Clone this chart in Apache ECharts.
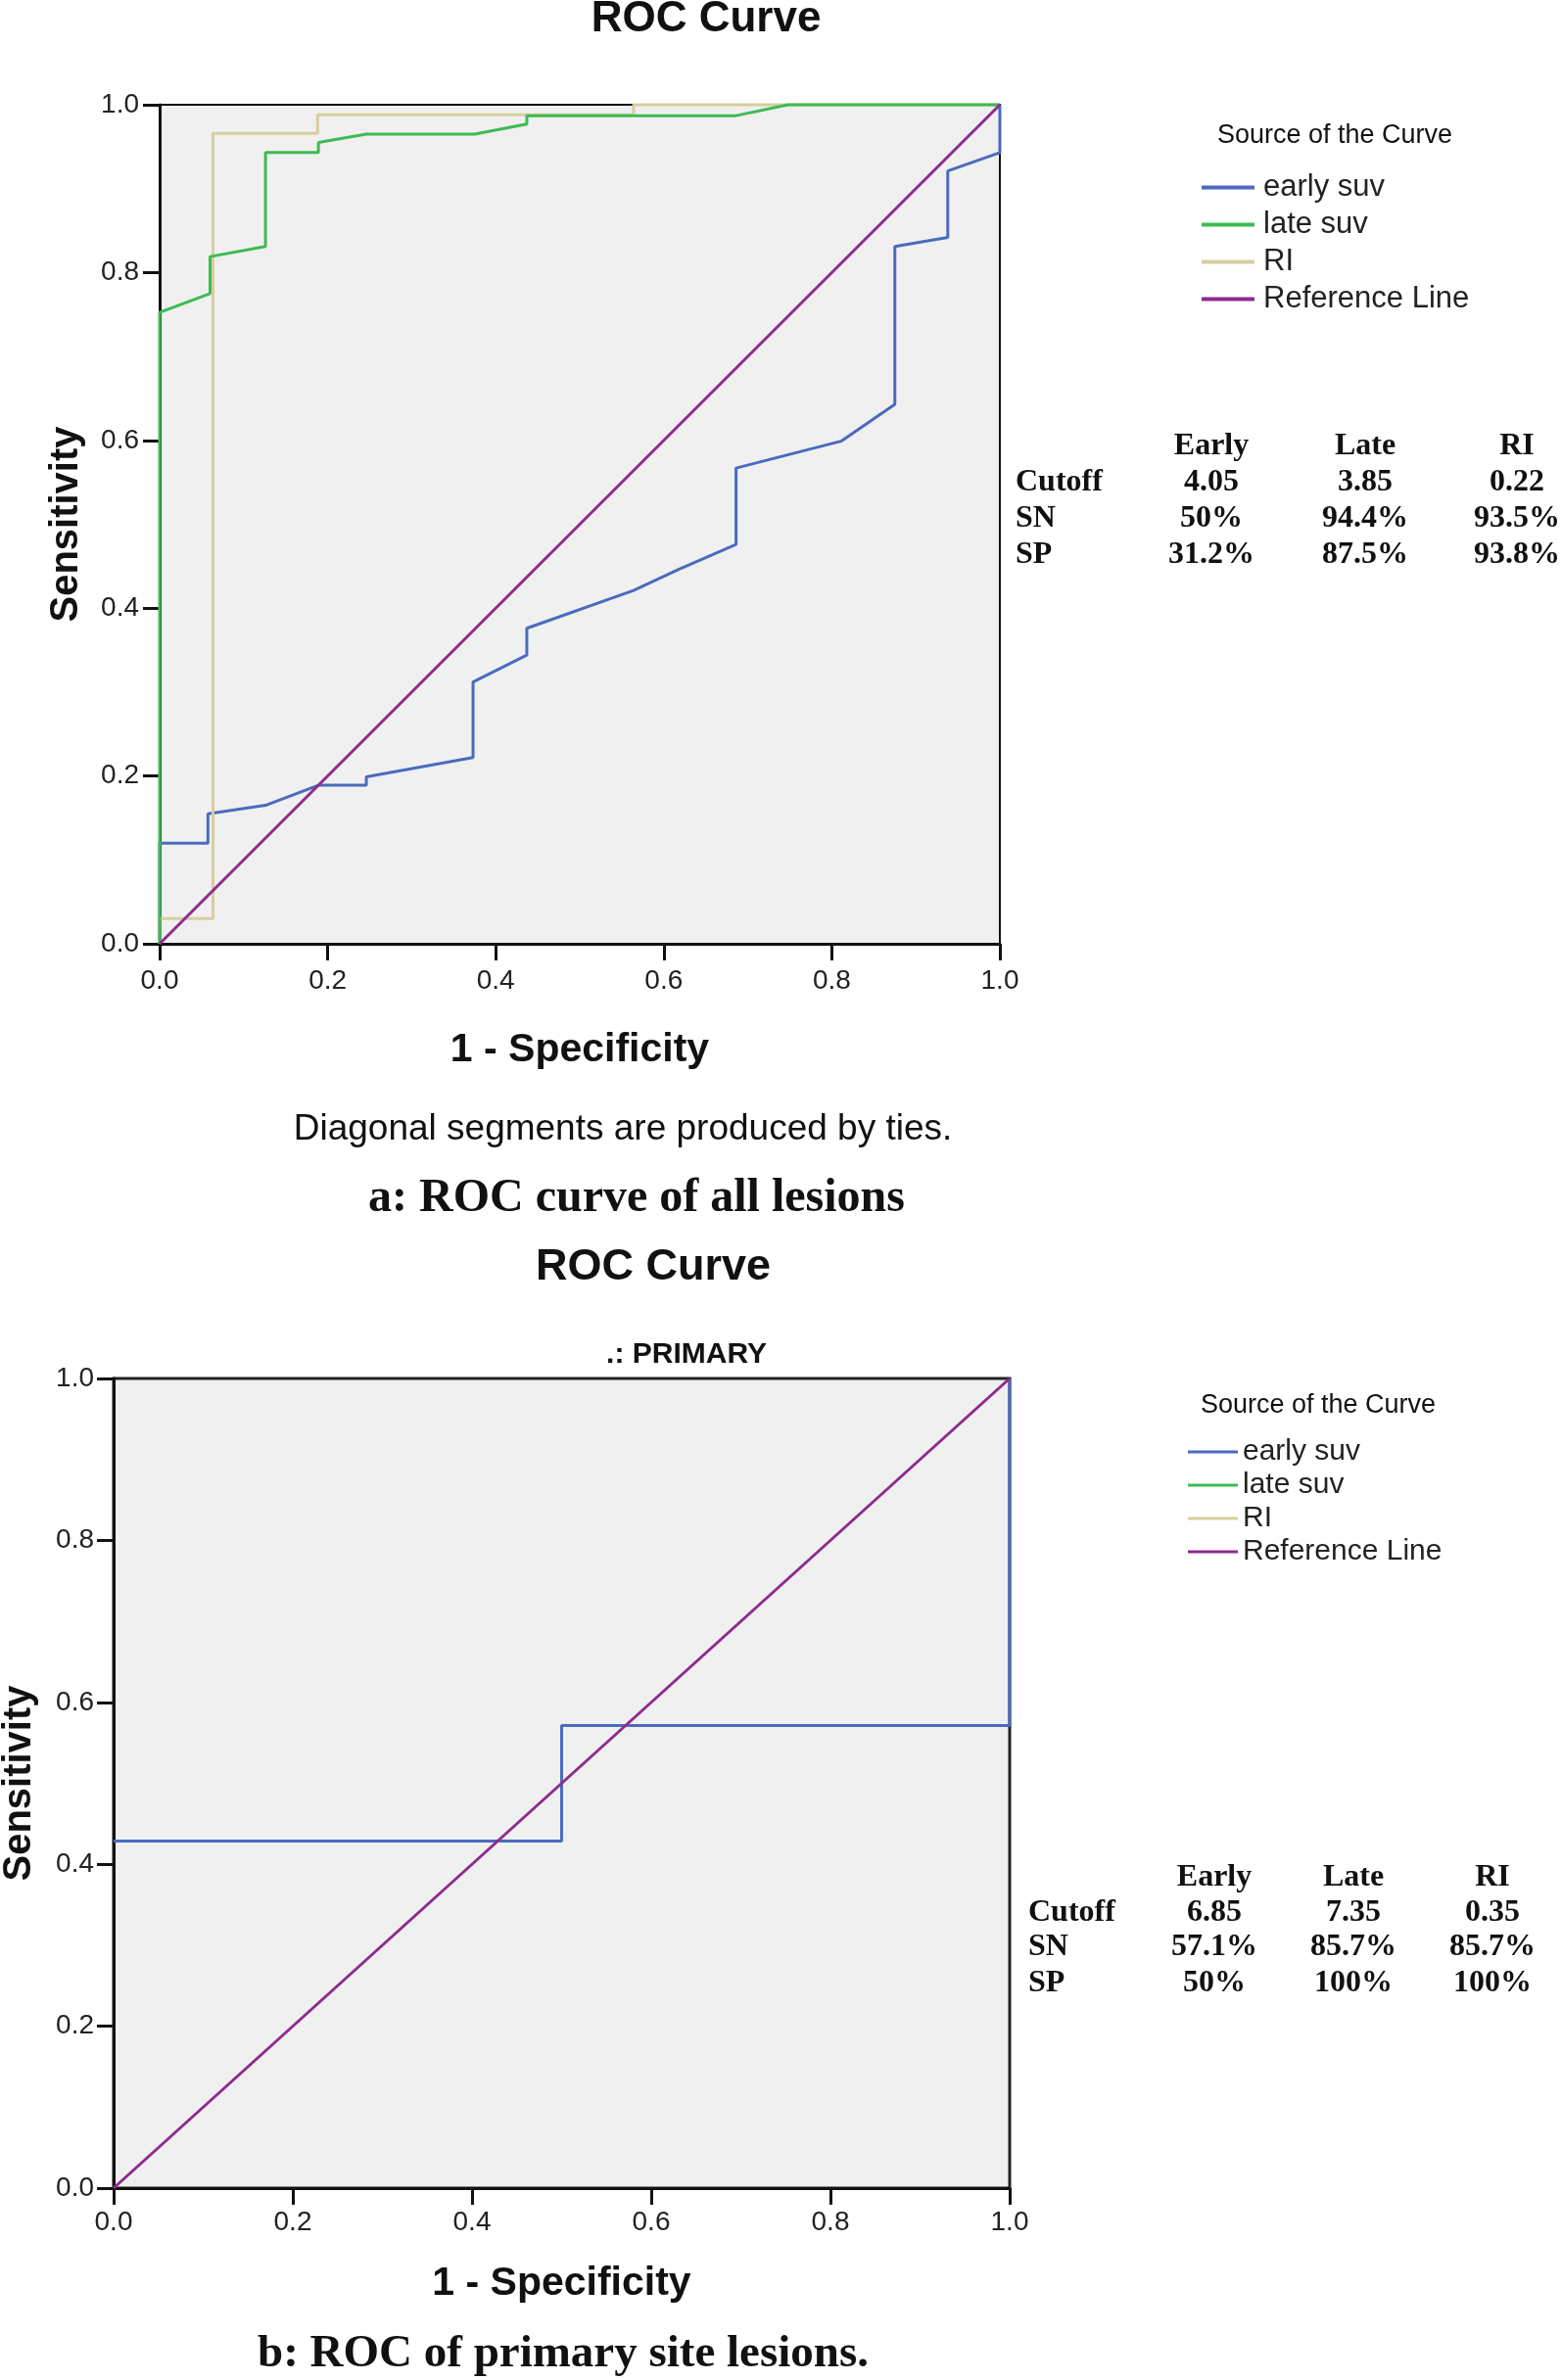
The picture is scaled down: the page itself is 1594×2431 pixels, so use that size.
<!DOCTYPE html>
<html>
<head>
<meta charset="utf-8">
<script src="https://cdn.jsdelivr.net/npm/echarts@6/dist/echarts.min.js"></script>
<style>
html,body{margin:0;padding:0;background:#fff;}
#c{width:1594px;height:2431px;}
</style>
</head>
<body>
<div id="c"></div>
<script>
// ---------- DATA ----------
const seriesNames = ['early suv', 'late suv', 'RI', 'Reference Line'];
// Panel a: all lesions  [1 - specificity, sensitivity]
const earlyA = [[0,0],[0,0.12],[0.0575,0.12],[0.0575,0.155],[0.126,0.165],[0.189,0.189],[0.246,0.189],[0.246,0.199],
  [0.373,0.222],[0.373,0.312],[0.437,0.344],[0.437,0.376],[0.564,0.421],[0.617,0.446],[0.686,0.476],[0.686,0.567],
  [0.811,0.599],[0.875,0.643],[0.875,0.831],[0.938,0.842],[0.938,0.921],[1,0.943],[1,1]];
const lateA = [[0,0],[0,0.7525],[0.060,0.775],[0.060,0.819],[0.126,0.831],[0.126,0.943],[0.189,0.943],[0.189,0.955],
  [0.246,0.965],[0.375,0.965],[0.437,0.977],[0.437,0.987],[0.686,0.987],[0.748,1],[1,1]];
const riA = [[0,0],[0,0.030],[0.0635,0.030],[0.0635,0.966],[0.188,0.966],[0.188,0.988],[0.564,0.988],[0.564,1],[1,1]];
const refA = [[0,0],[1,1]];
// Panel b: primary site lesions (late suv and RI lie on the frame and are hidden)
const earlyB = [[0,0.4286],[0.5,0.4286],[0.5,0.5714],[1,0.5714],[1,1]];
const refB = [[0,0],[1,1]];
// Tables
const tableCols = ['Early', 'Late', 'RI'];
const tableRows = ['Cutoff', 'SN', 'SP'];
const tableA = [['4.05','3.85','0.22'],['50%','94.4%','93.5%'],['31.2%','87.5%','93.8%']];
const tableB = [['6.85','7.35','0.35'],['57.1%','85.7%','85.7%'],['50%','100%','100%']];
const texts = {
  title: 'ROC Curve',
  xName: '1 - Specificity',
  yName: 'Sensitivity',
  legendTitle: 'Source of the Curve',
  note: 'Diagonal segments are produced by ties.',
  captionA: 'a: ROC curve of all lesions',
  subtitleB: '.: PRIMARY',
  captionB: 'b: ROC of primary site lesions.'
};

// ---------- STYLE ----------
const colors = {early:'#4a6bbd', late:'#3dbb52', ri:'#d6cf9f', ref:'#8e2b8e'};
const SANS = "'Liberation Sans', Arial, sans-serif";
const SERIF = "'Liberation Serif', 'Times New Roman', serif";

function axisX(gridIndex, margin, nameGap){
  return {
    type:'value', gridIndex, min:0, max:1, interval:0.2,
    name: texts.xName, nameLocation:'middle', nameGap,
    nameTextStyle:{fontFamily:SANS, fontWeight:'bold', fontSize:41, color:'#111'},
    axisLine:{show:true, onZero:false, lineStyle:{color:'#111', width:3}},
    axisTick:{show:true, inside:false, length:17, lineStyle:{color:'#111', width:3}},
    axisLabel:{margin, fontFamily:SANS, fontSize:28, color:'#222', formatter:v=>v.toFixed(1)},
    splitLine:{show:false}
  };
}
function axisY(gridIndex, margin, nameGap){
  return {
    type:'value', gridIndex, min:0, max:1, interval:0.2,
    name: texts.yName, nameLocation:'middle', nameGap,
    nameTextStyle:{fontFamily:SANS, fontWeight:'bold', fontSize:40, color:'#111'},
    axisLine:{show:true, onZero:false, lineStyle:{color:'#111', width:3}},
    axisTick:{show:true, inside:false, length:17, lineStyle:{color:'#111', width:3}},
    axisLabel:{margin, fontFamily:SANS, fontSize:28, color:'#222', formatter:v=>v.toFixed(1)},
    splitLine:{show:false}
  };
}
function lineSeries(name, data, color, idx, z){
  return {name, type:'line', xAxisIndex:idx, yAxisIndex:idx, data, showSymbol:false, symbol:'none',
    clip:false, z: z, lineStyle:{color, width:3}, itemStyle:{color}, animation:false};
}
function txt(x, y, text, font, align){
  return {type:'text', x, y, silent:true,
    style:{text, font, fill:'#111', textAlign:align||'center', textVerticalAlign:'middle', verticalAlign:'middle'}};
}

const graphics = [];
graphics.push(txt(721, 20, texts.title, "bold 44px " + SANS));
graphics.push(txt(636, 1154, texts.note, "37px " + SANS));
graphics.push(txt(650, 1225, texts.captionA, "bold 48px " + SERIF));
graphics.push(txt(667, 1295, texts.title, "bold 45px " + SANS));
graphics.push(txt(701, 1384, texts.subtitleB, "bold 30px " + SANS));
graphics.push(txt(575, 2405, texts.captionB, "bold 47px " + SERIF));
graphics.push(txt(1363, 139, texts.legendTitle, "27px " + SANS));
graphics.push(txt(1346, 1436, texts.legendTitle, "27px " + SANS));

function addTable(cols, rows, vals, colX, headY, rowY, labelX){
  cols.forEach((c,i)=>graphics.push(txt(colX[i], headY, c, "bold 32px " + SERIF)));
  rows.forEach((r,j)=>{
    graphics.push(txt(labelX, rowY[j], r, "bold 32px " + SERIF, 'left'));
    vals[j].forEach((v,i)=>graphics.push(txt(colX[i], rowY[j], v, "bold 32px " + SERIF)));
  });
}
addTable(tableCols, tableRows, tableA, [1237,1394,1549], 456, [493,530,567], 1037);
addTable(tableCols, tableRows, tableB, [1240,1382,1524], 1918, [1954,1989,2026], 1050);

const option = {
  backgroundColor:'#ffffff',
  animation:false,
  grid:[
    {left:163, top:107, width:858, height:857, show:true, backgroundColor:'#F0F0F0', borderColor:'#111', borderWidth:2,
     containLabel:false, outerBoundsMode:'none'},
    {left:116, top:1408, width:915, height:827, show:true, backgroundColor:'#F0F0F0', borderColor:'#222', borderWidth:3,
     containLabel:false, outerBoundsMode:'none'}
  ],
  xAxis:[axisX(0, 24, 88), axisX(1, 21, 77)],
  yAxis:[axisY(0, 21, 75), axisY(1, 20, 76)],
  legend:[
    {orient:'vertical', left:1227, top:176, padding:0, itemWidth:54, itemHeight:4, icon:'rect', itemGap:7,
     data:seriesNames, selectedMode:false,
     textStyle:{fontFamily:SANS, fontSize:31, lineHeight:31, color:'#222', padding:[0,0,0,4]}},
    {orient:'vertical', left:1213, top:1468, padding:0, itemWidth:51, itemHeight:3, icon:'rect', itemGap:4,
     data:seriesNames, selectedMode:false,
     textStyle:{fontFamily:SANS, fontSize:30, lineHeight:30, color:'#222'}}
  ],
  series:[
    lineSeries('early suv', earlyA, colors.early, 0, 2),
    lineSeries('RI', riA, colors.ri, 0, 3),
    lineSeries('late suv', lateA, colors.late, 0, 4),
    lineSeries('Reference Line', refA, colors.ref, 0, 5),
    lineSeries('early suv', earlyB, colors.early, 1, 2),
    lineSeries('Reference Line', refB, colors.ref, 1, 5)
  ],
  graphic: graphics
};
const chart = echarts.init(document.getElementById('c'), null, {renderer:'canvas'});
chart.setOption(option);
</script>
</body>
</html>
